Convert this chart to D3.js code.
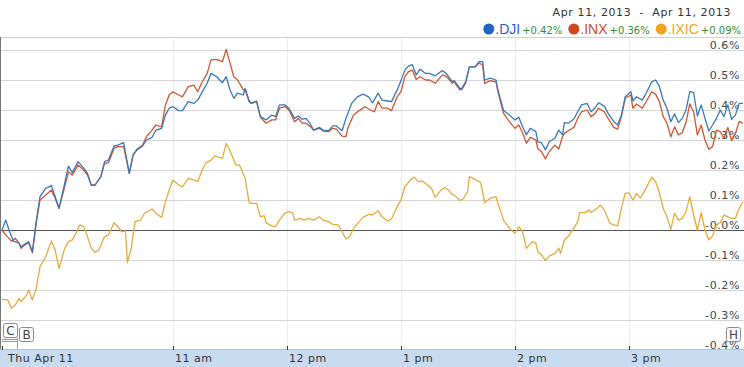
<!DOCTYPE html>
<html>
<head>
<meta charset="utf-8">
<script src="https://cdn.jsdelivr.net/npm/d3@7"></script>
<style>
  html, body { margin: 0; padding: 0; background: #fff; }
  svg { display: block; }
</style>
</head>
<body>
<div id="chart"></div>
<script>
// minutes after the 9:30 open, % change since open
const djiTimes = [0,2,4,6,9,10,12,14,16,18,20,23,26,28,30,33,35,37,40,43,45,47,49,52,54,56,59,61,64,67,69,71,74,76,79,81,84,86,88,90,93,95,98,101,103,106,108,110,113,116,118,120,122,124,127,
  128,130,131,134,136,139,142,144,146,149,151,154,156,158,160,162,164,167,169,172,174,176,179,181,184,187,190,193,195,198,200,203,205,208,210,212,214,216,218,220,223,225,228,231,232,234,237,238,241,242,244,246,249,251,253,254,257,
  260,261,264,267,270,272,274,276,278,281,282,284,286,288,291,293,295,296,298,301,303,305,308,310,312,314,317,319,322,324,326,328,331,332,334,337,339,342,344,346,348,350,352,354,356,358,360,362,364,366,368,370,372,374,376,378,380,382,384,386,388,390];
const djiValues = [0,0.033,-0.006,-0.037,-0.044,-0.056,-0.047,-0.039,-0.072,0.028,0.111,0.139,0.148,0.111,0.072,0.156,0.213,0.191,0.228,0.206,0.189,0.148,0.150,0.178,0.228,0.233,0.280,0.283,0.291,0.189,0.250,0.267,0.280,0.300,0.309,0.333,0.339,0.383,0.406,0.411,0.398,0.398,0.428,0.422,0.433,0.467,0.489,0.522,0.511,0.491,0.511,0.467,0.439,0.456,0.450,
  0.472,0.433,0.422,0.430,0.378,0.367,0.383,0.378,0.417,0.417,0.406,0.372,0.380,0.369,0.372,0.356,0.333,0.342,0.333,0.331,0.347,0.347,0.331,0.372,0.422,0.444,0.453,0.444,0.424,0.456,0.433,0.430,0.428,0.467,0.498,0.533,0.547,0.551,0.517,0.536,0.522,0.522,0.514,0.528,0.531,0.520,0.494,0.498,0.472,0.472,0.494,0.544,0.544,0.561,0.561,0.500,0.506,
  0.500,0.467,0.398,0.383,0.367,0.376,0.344,0.317,0.339,0.328,0.294,0.291,0.267,0.294,0.306,0.333,0.317,0.358,0.356,0.370,0.394,0.417,0.422,0.394,0.406,0.424,0.413,0.389,0.361,0.350,0.383,0.444,0.461,0.431,0.444,0.433,0.456,0.494,0.500,0.478,0.433,0.406,0.361,0.387,0.358,0.372,0.400,0.461,0.459,0.380,0.417,0.372,0.330,0.350,0.372,0.400,0.378,0.417,0.369,0.383,0.422,0.422];

const inxTimes = [0,2,5,7,9,10,12,14,16,18,20,23,26,28,30,33,35,37,40,43,45,47,49,52,54,56,59,61,64,67,69,71,74,76,79,81,84,86,88,90,93,95,98,101,103,105,108,110,113,116,118,120,122,124,127,
  128,130,131,134,136,139,142,144,146,149,151,154,156,158,160,162,164,167,169,172,174,176,179,181,182,185,188,191,194,196,198,200,203,205,208,210,212,214,216,218,220,223,225,228,231,232,234,237,238,241,242,244,246,249,251,253,254,257,
  260,261,264,267,270,272,274,276,278,281,282,284,286,288,291,293,295,296,298,301,303,305,308,310,312,314,317,319,322,324,326,328,331,332,334,337,339,342,344,346,348,350,352,354,356,358,360,362,364,366,368,370,372,374,376,378,380,382,384,386,388,390];
const inxValues = [0,-0.017,-0.037,-0.028,-0.044,-0.061,-0.050,-0.042,-0.076,0.022,0.100,0.117,0.133,0.106,0.072,0.144,0.194,0.183,0.217,0.200,0.183,0.150,0.150,0.178,0.222,0.224,0.272,0.278,0.278,0.189,0.250,0.269,0.283,0.311,0.333,0.350,0.344,0.417,0.450,0.461,0.450,0.444,0.478,0.483,0.461,0.489,0.522,0.567,0.569,0.561,0.602,0.556,0.511,0.500,0.467,
  0.467,0.428,0.422,0.428,0.376,0.356,0.367,0.367,0.406,0.411,0.400,0.361,0.372,0.356,0.356,0.347,0.333,0.339,0.330,0.328,0.339,0.336,0.313,0.311,0.339,0.383,0.398,0.411,0.400,0.394,0.428,0.406,0.406,0.398,0.444,0.461,0.511,0.528,0.533,0.502,0.511,0.500,0.500,0.489,0.511,0.517,0.511,0.489,0.494,0.467,0.469,0.489,0.544,0.544,0.556,0.550,0.489,0.498,
  0.494,0.461,0.389,0.361,0.339,0.350,0.324,0.289,0.309,0.300,0.272,0.261,0.237,0.261,0.283,0.270,0.311,0.322,0.331,0.342,0.372,0.394,0.400,0.378,0.387,0.406,0.394,0.372,0.342,0.336,0.378,0.439,0.450,0.406,0.420,0.406,0.428,0.461,0.453,0.428,0.378,0.356,0.311,0.344,0.317,0.324,0.358,0.420,0.394,0.317,0.350,0.300,0.269,0.278,0.333,0.328,0.306,0.342,0.298,0.322,0.361,0.356];

const ixicTimes = [0,3,5,7,9,10,13,14,16,18,20,23,26,28,30,33,35,37,38,41,43,45,47,49,51,54,56,59,61,63,65,66,68,70,73,75,79,81,84,86,88,90,93,95,98,101,103,105,107,110,112,116,118,121,123,125,
  128,130,131,134,136,138,139,142,144,146,149,151,153,154,157,159,161,164,167,169,172,174,177,179,181,183,185,188,190,193,195,198,200,203,205,208,210,212,215,217,219,221,224,226,228,231,233,235,237,238,241,243,245,246,249,252,254,257,
  260,261,264,267,270,272,274,276,279,281,282,284,286,288,291,293,294,296,298,301,303,304,307,309,310,313,315,317,320,322,324,326,328,330,332,334,336,338,342,344,346,348,350,352,354,356,358,360,362,364,366,368,370,372,374,376,378,380,382,384,386,388,390];
const ixicValues = [-0.231,-0.233,-0.261,-0.250,-0.228,-0.239,-0.217,-0.200,-0.233,-0.194,-0.122,-0.089,-0.037,-0.067,-0.128,-0.061,-0.039,-0.033,-0.022,0.017,0.011,-0.022,-0.061,-0.074,-0.067,-0.022,-0.017,0.024,0.011,-0.006,-0.003,-0.109,-0.061,0.028,0.033,0.056,0.070,0.056,0.042,0.094,0.133,0.167,0.150,0.144,0.172,0.167,0.161,0.194,0.222,0.233,0.247,0.239,0.289,0.250,0.217,0.217,
  0.172,0.094,0.089,0.089,0.044,0.048,0.024,0.014,0.011,0.033,0.056,0.061,0.056,0.033,0.039,0.033,0.039,0.033,0.044,0.033,0.028,0.019,0.017,-0.006,-0.030,-0.022,0.006,0.028,0.042,0.052,0.050,0.064,0.044,0.030,0.037,0.078,0.100,0.144,0.167,0.176,0.161,0.164,0.150,0.139,0.109,0.133,0.141,0.133,0.117,0.117,0.098,0.106,0.128,0.178,0.169,0.158,0.091,0.106,
  0.111,0.089,0.033,0.006,-0.011,0.011,-0.006,-0.061,-0.039,-0.044,-0.072,-0.083,-0.102,-0.087,-0.078,-0.061,-0.078,-0.033,-0.022,0.006,0.028,0.059,0.058,0.067,0.058,0.072,0.083,0.067,0.022,0.017,0.014,0.072,0.122,0.124,0.100,0.122,0.106,0.128,0.176,0.161,0.124,0.072,0.044,0.002,0.056,0.033,0.039,0.061,0.111,0.050,0.000,0.058,0.000,-0.033,-0.020,0.017,0.024,0.050,0.044,0.039,0.039,0.072,0.094];

const seriesNames = ['.DJI', '.INX', '.IXIC'];
const seriesChanges = ['+0.42%', '+0.36%', '+0.09%'];

const yTicks = [0.6, 0.5, 0.4, 0.3, 0.2, 0.1, 0, -0.1, -0.2, -0.3, -0.4];
const yTickLabels = ['0.6%', '0.5%', '0.4%', '0.3%', '0.2%', '0.1%', '-0.0%', '-0.1%', '-0.2%', '-0.3%', '-0.4%'];
const xTickMinutes = [0, 90, 150, 210, 270, 330];
const xTickLabels = ['Thu Apr 11', '11 am', '12 pm', '1 pm', '2 pm', '3 pm'];
const dateRange = 'Apr 11, 2013  -  Apr 11, 2013';

const W = 744, H = 367;
const plotTop = 37, bandTop = 349;
const lineColors = ['#3b78b6', '#cf5635', '#e9aa3c'];
const dotColors = ['#1f63c6', '#d3471c', '#f4a31c'];

const svg = d3.select('#chart').append('svg')
  .attr('width', W).attr('height', H)
  .style('font-family', '"DejaVu Sans", Verdana, sans-serif');

const x = d3.scaleLinear().domain([0, 390]).range([2, 743]);
const y = d3.scaleLinear().domain([-0.4, 0.6]).range([350, 50]);

// vertical hour grid
svg.append('g').selectAll('line')
  .data(xTickMinutes.slice(1))
  .join('line')
  .attr('x1', d => Math.round(x(d)) + 0.5).attr('x2', d => Math.round(x(d)) + 0.5)
  .attr('y1', plotTop).attr('y2', bandTop)
  .attr('stroke', '#ededed');

// horizontal grid
svg.append('g').selectAll('line')
  .data(yTicks.filter(d => d !== 0 && d > -0.4))
  .join('line')
  .attr('x1', 0).attr('x2', W)
  .attr('y1', d => Math.round(y(d)) + 0.5).attr('y2', d => Math.round(y(d)) + 0.5)
  .attr('stroke', '#d6d6d6');

// frame top
svg.append('line')
  .attr('x1', 0).attr('x2', W).attr('y1', plotTop + 0.5).attr('y2', plotTop + 0.5)
  .attr('stroke', '#d0d0d0');

// y labels
svg.append('g').selectAll('text')
  .data(yTicks)
  .join('text')
  .attr('x', 740)
  .attr('y', d => y(d) - 1)
  .attr('text-anchor', 'end')
  .attr('font-size', 11)
  .attr('letter-spacing', 0.6)
  .attr('fill', '#444')
  .text((d, i) => yTickLabels[i]);

// zero line
svg.append('line')
  .attr('x1', 0).attr('x2', W)
  .attr('y1', Math.round(y(0)) + 0.5).attr('y2', Math.round(y(0)) + 0.5)
  .attr('stroke', '#555').attr('stroke-width', 1.2);

// series
const line = d3.line()
  .x(d => x(d[0]))
  .y(d => y(d[1]));

const series = [
  d3.zip(ixicTimes, ixicValues),
  d3.zip(inxTimes, inxValues),
  d3.zip(djiTimes, djiValues)
];
const seriesColors = [lineColors[2], lineColors[1], lineColors[0]];

svg.append('g').selectAll('path')
  .data(series)
  .join('path')
  .attr('d', line)
  .attr('fill', 'none')
  .attr('stroke', (d, i) => seriesColors[i])
  .attr('stroke-width', 1.3)
  .attr('stroke-linejoin', 'round');

// left border
svg.append('line')
  .attr('x1', 0.5).attr('x2', 0.5).attr('y1', plotTop).attr('y2', H)
  .attr('stroke', '#777');

// bottom time band
svg.append('rect')
  .attr('x', 0).attr('y', bandTop).attr('width', W).attr('height', H - bandTop)
  .attr('fill', '#c8dcf1');
svg.append('line')
  .attr('x1', 0).attr('x2', W).attr('y1', bandTop + 0.5).attr('y2', bandTop + 0.5)
  .attr('stroke', '#a9c3e2');

const xAxis = svg.append('g');
xAxis.selectAll('line')
  .data(xTickMinutes)
  .join('line')
  .attr('x1', d => Math.round(x(d)) + 0.5).attr('x2', d => Math.round(x(d)) + 0.5)
  .attr('y1', bandTop - 3).attr('y2', bandTop + 1)
  .attr('stroke', '#333');
xAxis.selectAll('text')
  .data(xTickMinutes)
  .join('text')
  .attr('x', (d, i) => i === 0 ? 8 : x(d) + 2)
  .attr('y', 362)
  .attr('font-size', 11)
  .attr('letter-spacing', 0.5)
  .attr('fill', '#333')
  .text((d, i) => xTickLabels[i]);

// event flags
function flag(fx, fy, label) {
  const g = svg.append('g');
  g.append('rect')
    .attr('x', fx + 0.5).attr('y', fy + 0.5).attr('width', 14).attr('height', 14)
    .attr('rx', 2).attr('fill', '#fff').attr('stroke', '#8a8a8a');
  g.append('text')
    .attr('x', fx + 7.5).attr('y', fy + 12)
    .attr('text-anchor', 'middle')
    .attr('font-size', 12)
    .attr('fill', '#444')
    .text(label);
}
svg.append('line').attr('x1', 2).attr('x2', 17).attr('y1', 339.5).attr('y2', 339.5).attr('stroke', '#999');
svg.append('line').attr('x1', 2).attr('x2', 17).attr('y1', 341.5).attr('y2', 341.5).attr('stroke', '#999');
svg.append('line').attr('x1', 17.5).attr('x2', 17.5).attr('y1', 338).attr('y2', bandTop).attr('stroke', '#999');
flag(3, 323, 'C');
flag(19, 327, 'B');
flag(726, 327, 'H');

// header: date range
svg.append('text')
  .attr('x', 731).attr('y', 16)
  .attr('text-anchor', 'end')
  .attr('font-size', 11)
  .attr('letter-spacing', 0.6)
  .attr('fill', '#333')
  .style('white-space', 'pre')
  .text(dateRange);

// legend, right aligned
const legend = svg.append('g');
let lx = 0;
seriesNames.forEach((name, i) => {
  legend.append('circle')
    .attr('cx', lx + 5.5).attr('cy', 0).attr('r', 5.5)
    .attr('fill', dotColors[i]);
  lx += 12;
  const t1 = legend.append('text')
    .attr('x', lx).attr('y', 5)
    .attr('font-family', '"Liberation Sans", Arial, sans-serif')
    .attr('font-size', 14)
    .attr('fill', dotColors[i])
    .text(name);
  lx += t1.node().getComputedTextLength() + 2;
  const t2 = legend.append('text')
    .attr('x', lx).attr('y', 5)
    .attr('font-size', 10)
    .attr('fill', '#3b8b2e')
    .text(seriesChanges[i]);
  lx += t2.node().getComputedTextLength() + 6;
});
legend.attr('transform', `translate(${741 - (lx - 6)},29)`);
</script>
</body>
</html>
